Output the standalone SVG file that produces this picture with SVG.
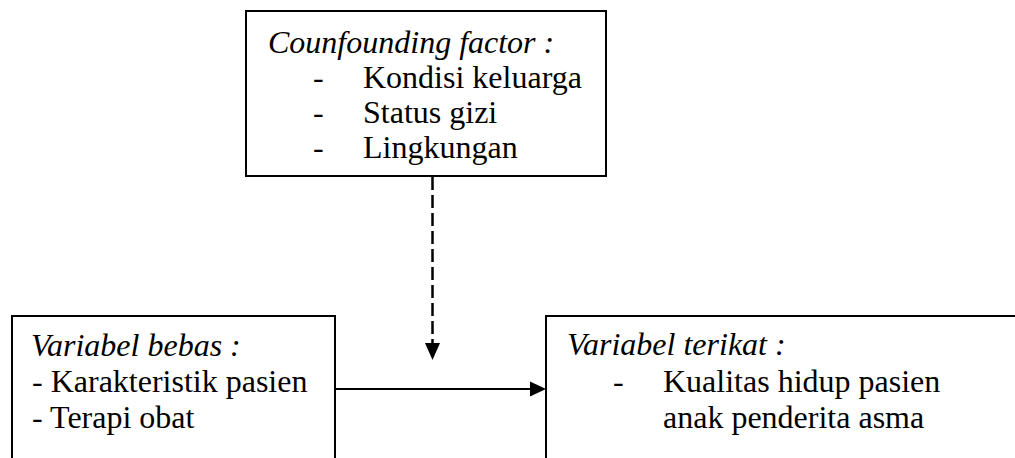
<svg xmlns="http://www.w3.org/2000/svg" width="1015" height="458" viewBox="0 0 1015 458">
<style>
.box{fill:#fff;stroke:#000;stroke-width:2}
.t{font-family:"Liberation Serif","Times New Roman",serif;font-size:32px;fill:#000}
.i{font-style:italic}
.conn{stroke:#000;fill:none}
</style>
<rect width="1015" height="458" fill="#fff"/>
<g id="confounding">
<rect class="box" x="246" y="11" width="360" height="165"/>
<text class="t i" x="268" y="53">Counfounding factor :</text>
<text class="t" x="313" y="88">-</text>
<text class="t" x="363" y="88">Kondisi keluarga</text>
<text class="t" x="313" y="123">-</text>
<text class="t" x="363" y="123">Status gizi</text>
<text class="t" x="313" y="158">-</text>
<text class="t" x="363" y="158">Lingkungan</text>
</g>
<g id="bebas">
<rect class="box" x="12" y="316" width="323" height="160"/>
<text class="t i" x="31" y="356">Variabel bebas :</text>
<text class="t" x="32" y="392">- Karakteristik pasien</text>
<text class="t" x="32" y="428">- Terapi obat</text>
</g>
<g id="terikat">
<rect class="box" x="546" y="316" width="490" height="160"/>
<text class="t i" x="567" y="355">Variabel terikat :</text>
<text class="t" x="613" y="392">-</text>
<text class="t" x="663" y="392">Kualitas hidup pasien</text>
<text class="t" x="663" y="428">anak penderita asma</text>
</g>
<g id="connectors">
<line class="conn" x1="432.5" y1="177" x2="432.5" y2="344" stroke-width="2.5" stroke-dasharray="13 5"/>
<polygon points="425,343 440,343 432.5,360" fill="#000"/>
<line class="conn" x1="335" y1="389" x2="531" y2="389" stroke-width="2"/>
<polygon points="530,381.5 546,389 530,396.5" fill="#000"/>
</g>
</svg>
